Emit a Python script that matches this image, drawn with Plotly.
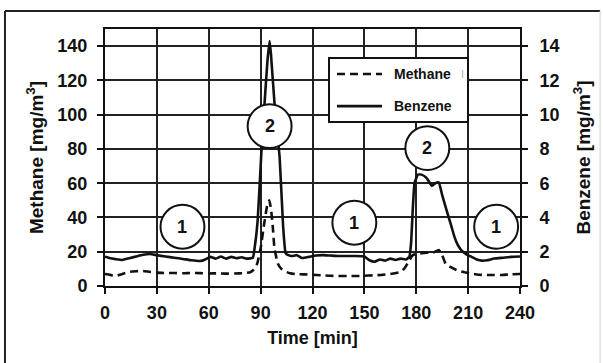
import plotly.graph_objects as go

# Methane concentration [mg/m3] over time [min]
methane_t = [0, 3, 6, 10, 14, 18, 22, 26, 30, 35, 40, 45, 50, 55, 60, 65, 70, 75, 80,
             84, 86, 88, 90, 92, 94, 95, 96, 97, 98, 100, 102, 104, 107, 110, 115, 120,
             125, 130, 135, 140, 145, 150, 155, 160, 165, 170, 173, 176, 178, 182, 186,
             190, 193, 195, 197, 200, 204, 208, 212, 216, 220, 225, 230, 235, 240]
methane_v = [7.0, 6.5, 5.8, 7.0, 8.2, 8.6, 8.8, 8.2, 7.8, 7.6, 7.6, 7.4, 7.6, 7.5, 7.3,
             7.4, 7.2, 7.3, 7.5, 8.0, 9.5, 13, 22, 36, 48, 50, 45, 35, 22, 13, 10, 8.5,
             7.5, 7.0, 6.8, 6.5, 6.3, 6.0, 5.8, 5.8, 5.8, 6.0, 6.2, 6.5, 7.0, 8.0, 10,
             15, 18, 19, 19.5, 19.5, 21, 18, 13, 11, 9, 8, 7.2, 6.6, 6.4, 6.4, 6.5, 6.8, 7.0]

# Benzene concentration [mg/m3] over time [min]
benzene_t = [0, 3, 6, 10, 14, 18, 22, 26, 30, 35, 40, 45, 50, 55, 58, 61, 64, 67, 70,
             73, 76, 79, 82, 85.5, 86.5, 88.3, 90.4, 92.3, 94, 95.2, 96, 98, 101, 103,
             104.5, 106, 108, 111, 114, 118, 122, 126, 130, 135, 140, 145, 150, 153, 156,
             159, 162, 165, 168, 171, 174, 176, 177, 178, 179, 181, 183, 186, 189, 191,
             193, 195, 197, 200, 202, 204, 206, 209, 212, 215, 218, 221, 225, 230, 235, 240]
benzene_v = [1.71, 1.62, 1.57, 1.52, 1.62, 1.72, 1.82, 1.87, 1.80, 1.72, 1.65, 1.58,
             1.50, 1.46, 1.55, 1.70, 1.60, 1.72, 1.60, 1.70, 1.62, 1.68, 1.60, 1.65,
             2.2, 3.85, 7.75, 10.7, 13.2, 14.3, 13.5, 10.7, 7.5, 3.5, 1.9, 1.8, 1.75,
             1.80, 1.63, 1.70, 1.78, 1.80, 1.78, 1.75, 1.75, 1.75, 1.72, 1.50, 1.42,
             1.55, 1.48, 1.60, 1.52, 1.60, 1.55, 1.70, 2.5, 4.5, 6.0, 6.5, 6.5, 6.3,
             5.85, 6.0, 6.05, 5.3, 4.6, 3.6, 2.9, 2.4, 2.1, 1.85, 1.70, 1.55, 1.48,
             1.50, 1.60, 1.65, 1.70, 1.72]

time_ticks = [0, 30, 60, 90, 120, 150, 180, 210, 240]
methane_ticks = [0, 20, 40, 60, 80, 100, 120, 140]
benzene_ticks = [0, 2, 4, 6, 8, 10, 12, 14]

# Numbered phase markers: (label, time, methane-axis level)
phase_labels = ["1", "2", "1", "2", "1"]
phase_t = [44.8, 95.2, 144.2, 186.4, 226.2]
phase_v = [34.6, 93.3, 36.9, 80.5, 34.6]

FONT = "Liberation Sans, Arial, sans-serif"
INK = "#111111"
methane_line = dict(color=INK, width=2.6, dash="8px,5px")
benzene_line = dict(color=INK, width=2.6)

fig = go.Figure()
fig.add_trace(go.Scatter(x=methane_t, y=methane_v, mode="lines", name="Methane",
                         line=dict(**methane_line, shape="spline", smoothing=0.4),
                         showlegend=False))
fig.add_trace(go.Scatter(x=benzene_t, y=benzene_v, mode="lines", name="Benzene",
                         yaxis="y2",
                         line=dict(**benzene_line, shape="spline", smoothing=0.4),
                         showlegend=False))

tick_font = dict(family=FONT, size=18, color=INK, weight="bold")
xtitle_font = dict(family=FONT, size=18, color=INK, weight="bold")
ytitle_font = dict(family=FONT, size=19, color=INK, weight="bold")

fig.update_layout(
    width=603, height=363,
    margin=dict(l=105, r=83, t=29, b=77, autoexpand=False),
    paper_bgcolor="white", plot_bgcolor="white",
    xaxis=dict(range=[0, 240], tickvals=time_ticks, ticks="outside", ticklen=6,
               tickwidth=2, tickcolor=INK, showline=True, linewidth=2, linecolor=INK,
               mirror=True, showgrid=True, gridcolor="#222222", gridwidth=1.8,
               zeroline=False, tickfont=tick_font, ticklabelstandoff=3,
               title=dict(text="Time [min]", font=xtitle_font, standoff=10)),
    yaxis=dict(range=[0, 150], tickvals=methane_ticks, ticks="outside", ticklen=6,
               tickwidth=2, tickcolor=INK, showline=True, linewidth=2, linecolor=INK,
               showgrid=True, gridcolor="#222222", gridwidth=1.8, zeroline=False,
               tickfont=tick_font, ticklabelstandoff=6,
               title=dict(text="Methane [mg/m<sup>3</sup>]", font=ytitle_font, standoff=9)),
    yaxis2=dict(range=[0, 15], tickvals=benzene_ticks, overlaying="y", side="right",
                ticks="outside", ticklen=6, tickwidth=2, tickcolor=INK, showline=True,
                linewidth=2, linecolor=INK, showgrid=False, zeroline=False,
                tickfont=tick_font, ticklabelstandoff=8,
                title=dict(text="Benzene [mg/m<sup>3</sup>]", font=ytitle_font, standoff=18)),
)

shapes = []
annotations = []

# Outer frame around the figure
shapes.append(dict(type="line", xref="paper", yref="paper", x0=-0.241, x1=-0.241,
                   y0=-0.4, y1=1.070, line=dict(color="#222222", width=2)))
shapes.append(dict(type="line", xref="paper", yref="paper", x0=-0.241, x1=1.193,
                   y0=1.070, y1=1.070, line=dict(color="#222222", width=2)))
shapes.append(dict(type="line", xref="paper", yref="paper", x0=1.193, x1=1.193,
                   y0=-0.4, y1=1.070, line=dict(color="#d0d0d0", width=1)))

# Circled phase numbers
rx, ry = 12.7, 12.8
for lab, cx, cy in zip(phase_labels, phase_t, phase_v):
    shapes.append(dict(type="circle", xref="x", yref="y", layer="above",
                       x0=cx - rx, x1=cx + rx, y0=cy - ry, y1=cy + ry,
                       fillcolor="white", line=dict(color=INK, width=2)))
    annotations.append(dict(x=cx, y=cy, xref="x", yref="y", text=lab, showarrow=False,
                            font=dict(family=FONT, size=18, color=INK, weight="bold"),
                            xanchor="center", yanchor="middle"))

# Legend box
shapes.append(dict(type="rect", xref="paper", yref="paper", layer="above",
                   x0=0.5398, x1=0.8747, y0=0.638, y1=0.887,
                   fillcolor="white", line=dict(color=INK, width=2)))
shapes.append(dict(type="line", xref="paper", yref="paper", layer="above",
                   x0=0.559, x1=0.6675, y0=0.825, y1=0.825, line=methane_line))
shapes.append(dict(type="line", xref="paper", yref="paper", layer="above",
                   x0=0.559, x1=0.6675, y0=0.700, y1=0.700, line=benzene_line))
legend_font = dict(family=FONT, size=14, color=INK, weight="bold")
annotations.append(dict(x=0.6916, y=0.825, xref="paper", yref="paper", text="Methane",
                        showarrow=False, xanchor="left", yanchor="middle", font=legend_font))
annotations.append(dict(x=0.6916, y=0.700, xref="paper", yref="paper", text="Benzene",
                        showarrow=False, xanchor="left", yanchor="middle", font=legend_font))
annotations.append(dict(x=0.852, y=0.825, xref="paper", yref="paper", text="I",
                        showarrow=False, xanchor="left", yanchor="middle",
                        font=dict(family=FONT, size=11, color="#b0b0b0")))

fig.update_layout(shapes=shapes, annotations=annotations)
fig.write_html("out.html")
